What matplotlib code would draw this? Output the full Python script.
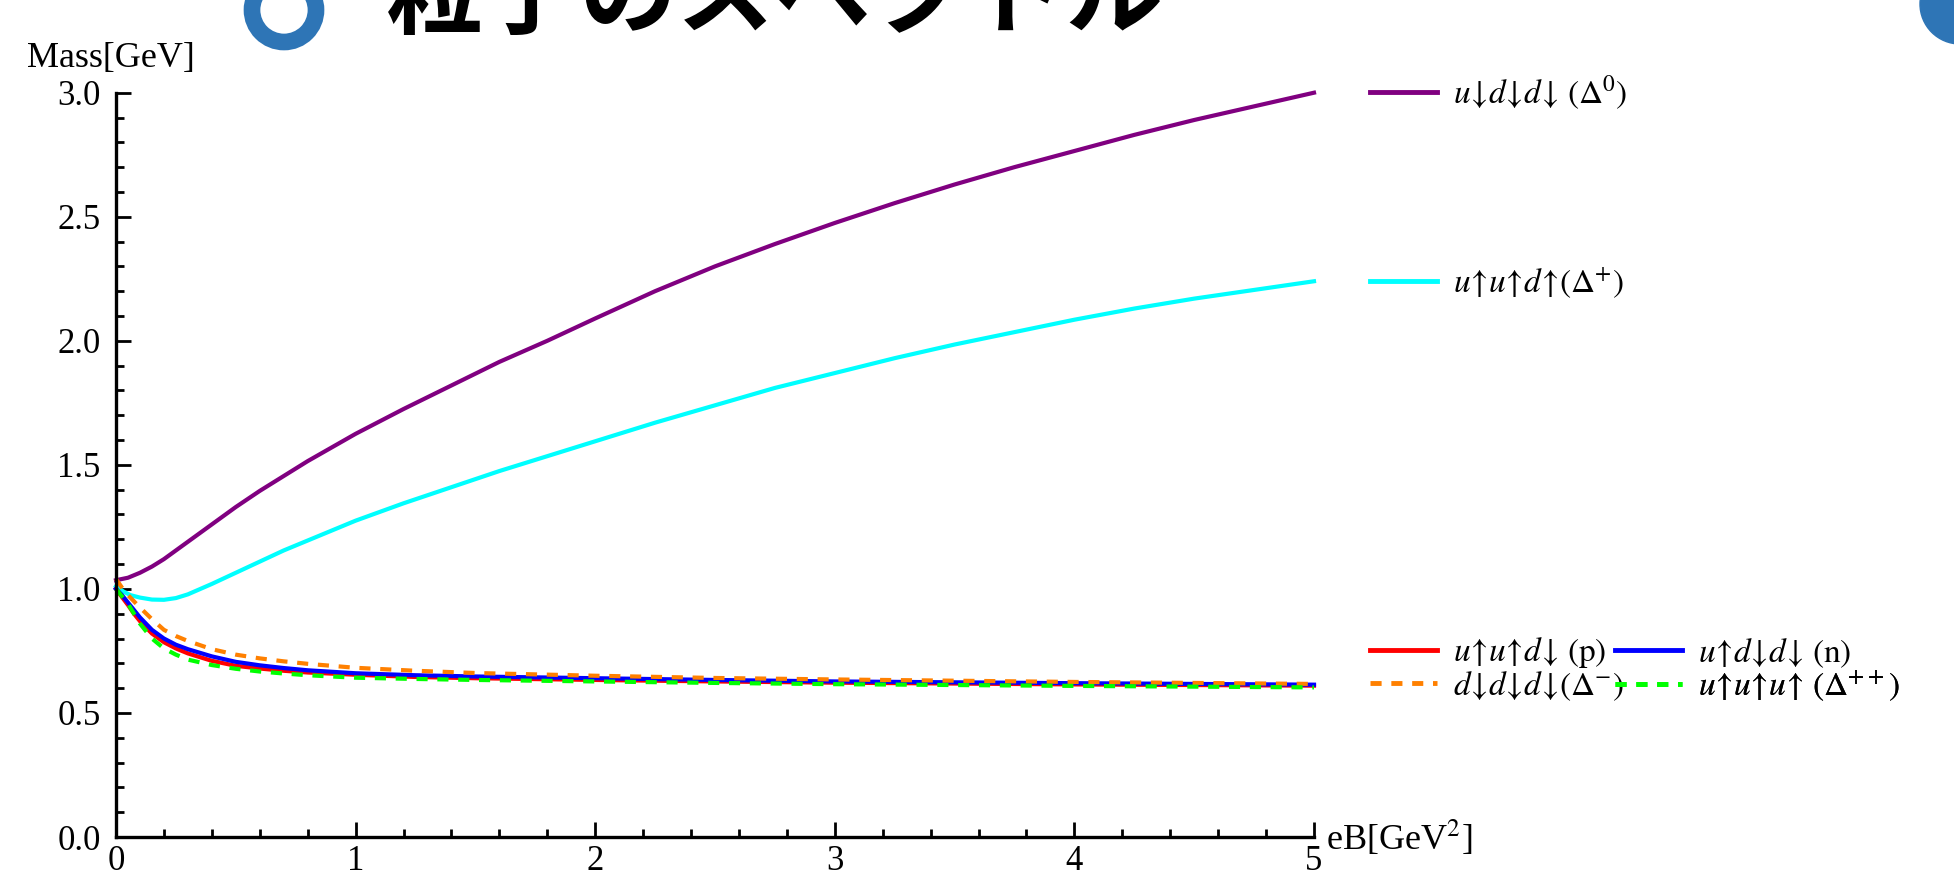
import matplotlib
matplotlib.use("Agg")
import matplotlib.pyplot as plt
from matplotlib.ticker import MultipleLocator, FormatStrFormatter
from matplotlib.patches import Ellipse
from matplotlib.lines import Line2D

plt.rcParams['mathtext.fontset'] = 'stix'
plt.rcParams['font.family'] = ['Liberation Serif', 'DejaVu Serif']
plt.rcParams['lines.scale_dashes'] = False

# curves, eB in GeV^2, mass in GeV
x_up = [0, 0.05, 0.1, 0.15, 0.2, 0.3, 0.4, 0.5, 0.6, 0.7, 0.8, 0.9, 1.0, 1.2, 1.4, 1.6, 1.8,
        2.0, 2.25, 2.5, 2.75, 3.0, 3.25, 3.5, 3.75, 4.0, 4.25, 4.5, 4.75, 5.0]
m_delta0 = [1.035, 1.045, 1.065, 1.09, 1.12, 1.19, 1.26, 1.33, 1.395, 1.455, 1.515, 1.57, 1.625,
            1.725, 1.82, 1.915, 2.0, 2.09, 2.2, 2.3, 2.39, 2.475, 2.555, 2.63, 2.70, 2.765,
            2.83, 2.89, 2.945, 3.0]

x_cy = [0, 0.03, 0.06, 0.1, 0.15, 0.2, 0.25, 0.3, 0.4, 0.5, 0.6, 0.7, 0.8, 0.9, 1.0, 1.2, 1.4,
        1.6, 1.8, 2.0, 2.25, 2.5, 2.75, 3.0, 3.25, 3.5, 3.75, 4.0, 4.25, 4.5, 4.75, 5.0]
m_deltap = [1.01, 0.99, 0.975, 0.965, 0.957, 0.956, 0.963, 0.978, 1.02, 1.065, 1.11, 1.155,
            1.195, 1.235, 1.275, 1.345, 1.41, 1.475, 1.535, 1.595, 1.67, 1.74, 1.81, 1.87,
            1.93, 1.985, 2.035, 2.085, 2.13, 2.17, 2.205, 2.24]

x_lo = [0, 0.025, 0.05, 0.075, 0.1, 0.15, 0.2, 0.25, 0.3, 0.4, 0.5, 0.6, 0.7, 0.8, 1.0, 1.25,
        1.5, 2.0, 2.5, 3.0, 4.0, 5.0]
m_p = [1.0, 0.967, 0.935, 0.90, 0.87, 0.82, 0.785, 0.76, 0.74, 0.71, 0.69, 0.679, 0.67, 0.663,
       0.654, 0.645, 0.64, 0.633, 0.627, 0.622, 0.615, 0.61]
m_n = [1.0, 0.975, 0.945, 0.915, 0.885, 0.835, 0.80, 0.775, 0.757, 0.728, 0.706, 0.692, 0.681,
       0.672, 0.66, 0.652, 0.647, 0.64, 0.633, 0.627, 0.62, 0.614]
m_deltam = [1.04, 1.005, 0.975, 0.95, 0.925, 0.878, 0.835, 0.81, 0.79, 0.757, 0.735, 0.72, 0.708,
            0.698, 0.682, 0.67, 0.661, 0.65, 0.641, 0.635, 0.625, 0.617]
m_deltapp = [1.0, 0.97, 0.94, 0.90, 0.86, 0.80, 0.76, 0.735, 0.715, 0.693, 0.678, 0.667, 0.659,
             0.652, 0.642, 0.637, 0.633, 0.627, 0.621, 0.616, 0.609, 0.603]

lab_delta0 = r'$u\!\downarrow\!d\!\downarrow\!d\!\downarrow\,(\Delta^{0})$'
lab_deltap = r'$u\!\uparrow\!u\!\uparrow\!d\!\uparrow\!(\Delta^{+})$'
lab_p = r'$u\!\uparrow\!u\!\uparrow\!d\!\downarrow\,(\mathrm{p})$'
lab_n = r'$u\!\uparrow\!d\!\downarrow\!d\!\downarrow\,(\mathrm{n})$'
lab_deltam = r'$d\!\downarrow\!d\!\downarrow\!d\!\downarrow\!(\Delta^{-})$'
lab_deltapp = r'$u\!\uparrow\!u\!\uparrow\!u\!\uparrow\,(\Delta^{++})$'

W, H = 1954, 873
fig = plt.figure(figsize=(W / 100, H / 100), dpi=100)
ax = fig.add_axes([116 / W, 1 - 837 / H, (1314 - 116) / W, (837 - 92.7) / H])

dash = (0, (8, 7))
ax.plot(x_up, m_delta0, color='#800080', lw=3, clip_on=False)
ax.plot(x_cy, m_deltap, color='#00FFFF', lw=3, clip_on=False)
ax.plot(x_lo, m_p, color='#FF0000', lw=3, clip_on=False)
ax.plot(x_lo, m_n, color='#0000FF', lw=3, clip_on=False)
ax.plot(x_lo, m_deltam, color='#FF8000', lw=3, ls=dash, clip_on=False)
ax.plot(x_lo, m_deltapp, color='#00FF00', lw=3, ls=dash, clip_on=False)

ax.set_xlim(0, 5)
ax.set_ylim(0, 3)
ax.spines['top'].set_visible(False)
ax.spines['right'].set_visible(False)
ax.spines['left'].set_linewidth(2.4)
ax.spines['bottom'].set_linewidth(2.4)
ax.xaxis.set_major_locator(MultipleLocator(1))
ax.xaxis.set_minor_locator(MultipleLocator(0.2))
ax.yaxis.set_major_locator(MultipleLocator(0.5))
ax.yaxis.set_minor_locator(MultipleLocator(0.1))
ax.yaxis.set_major_formatter(FormatStrFormatter('%.1f'))
ax.tick_params(which='major', direction='in', length=11, width=2, labelsize=25)
ax.tick_params(which='minor', direction='in', length=6, width=2)
ax.tick_params(axis='y', which='major', pad=11)
ax.tick_params(axis='x', which='major', pad=6)

fig.text(27 / W, 1 - 58 / H, 'Mass[GeV]', fontsize=26, ha='left', va='center')
fig.text(1326 / W, 1 - 838 / H, r'eB[GeV$^{2}$]', fontsize=26, ha='left', va='center')

# one legend box per entry, placed like the Mathematica labels
entries = [
    ('#800080', '-', lab_delta0, 1370, 93),
    ('#00FFFF', '-', lab_deltap, 1370, 283),
    ('#FF0000', '-', lab_p, 1370, 653),
    ('#0000FF', '-', lab_n, 1615, 653),
    ('#FF8000', dash, lab_deltam, 1370, 686),
    ('#00FF00', dash, lab_deltapp, 1615, 686),
]
for col, ls, lab, px, py in entries:
    h = Line2D([], [], color=col, lw=3.5, ls=ls)
    leg = ax.legend([h], [lab], loc='center left', bbox_to_anchor=(px / W, 1 - py / H),
                    bbox_transform=fig.transFigure, frameon=False, fontsize=24,
                    borderpad=0, borderaxespad=0, handlelength=2.0, handletextpad=0.5)
    ax.add_artist(leg)

# clipped heading at the top edge of the screenshot
fig.add_artist(Ellipse((284 / W, 1 - 10 / H), 64 / W, 64 / H, fill=False,
                       edgecolor='#2E75B6', lw=12, transform=fig.transFigure))
fig.add_artist(Ellipse((1960 / W, 1 - 4 / H), 80 / W, 80 / H, color='#2E75B6',
                       transform=fig.transFigure))
fig.text(386 / W, 1 - 26 / H, '粒子のスペクトル', fontsize=70, fontweight='bold',
         family=['Noto Sans CJK JP', 'DejaVu Sans'], ha='left', va='baseline')

fig.savefig('out.png', dpi=100)
